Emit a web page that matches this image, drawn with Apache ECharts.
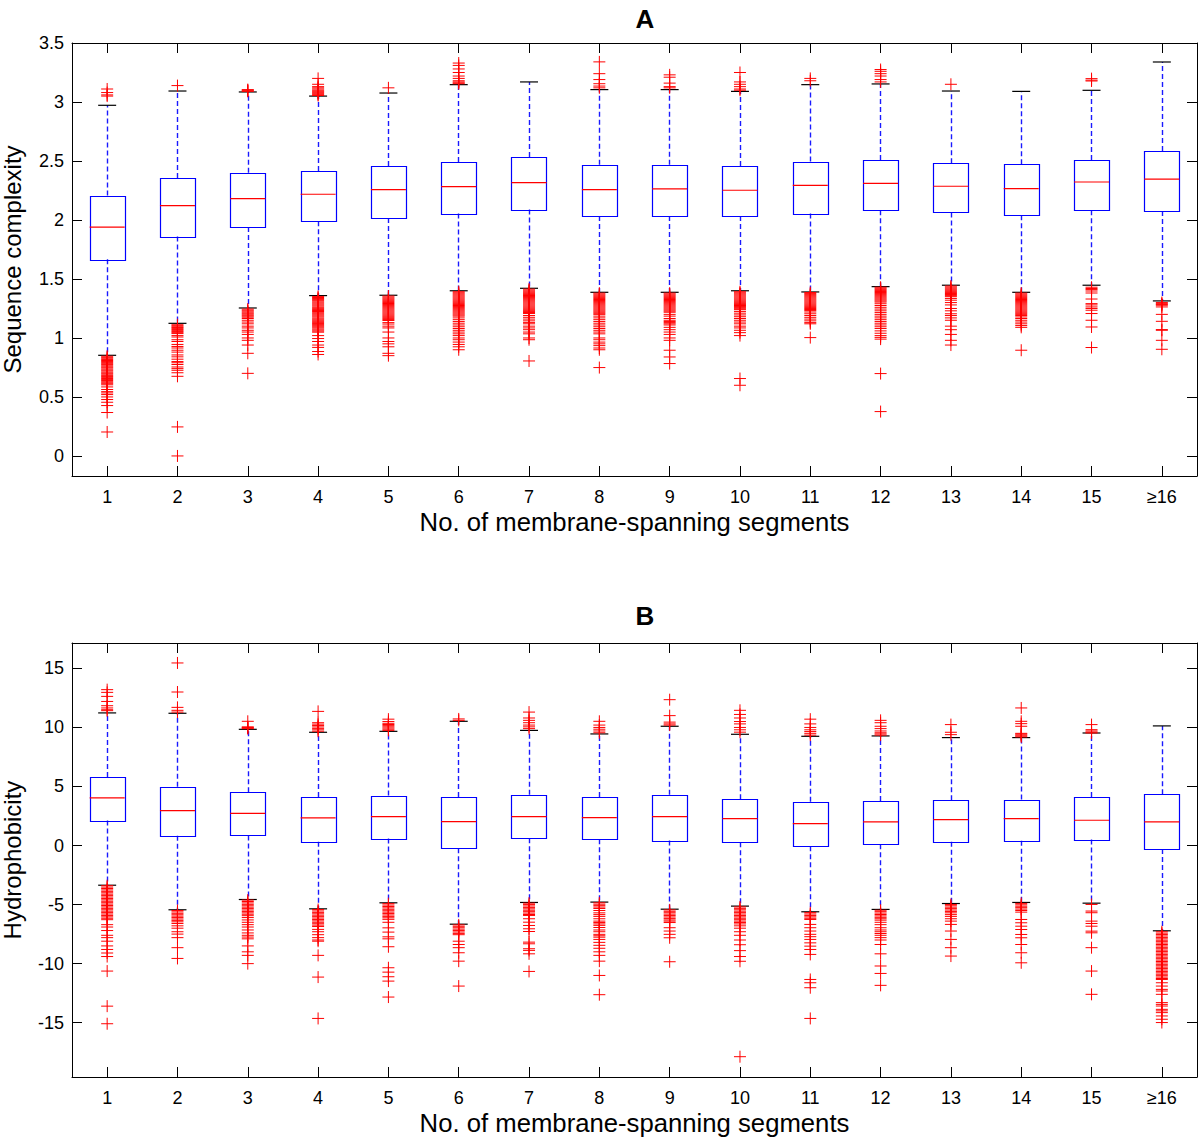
<!DOCTYPE html>
<html><head><meta charset="utf-8">
<script src="https://cdn.jsdelivr.net/npm/echarts@6/dist/echarts.min.js"></script>
<style>html,body{margin:0;padding:0;background:#fff}#chart{width:1200px;height:1141px}</style>
</head><body><div id="chart"></div>
<script>
// ---------- DATA ----------
const categories = ['1','2','3','4','5','6','7','8','9','10','11','12','13','14','15','≥16'];

// Panel A: Sequence complexity
const complexityTicks = [0, 0.5, 1, 1.5, 2, 2.5, 3, 3.5];
const complexityLow    = [0.853,1.124,1.254,1.359,1.362,1.400,1.421,1.387,1.387,1.400,1.390,1.435,1.447,1.387,1.447,1.314];
const complexityQ1     = [1.667,1.859,1.941,1.990,2.017,2.054,2.088,2.034,2.034,2.034,2.054,2.082,2.063,2.040,2.082,2.076];
const complexityMedian = [1.940,2.122,2.181,2.218,2.258,2.283,2.317,2.258,2.263,2.252,2.294,2.311,2.286,2.266,2.322,2.347];
const complexityQ3     = [2.207,2.356,2.400,2.415,2.458,2.492,2.534,2.469,2.469,2.458,2.495,2.508,2.480,2.472,2.508,2.585];
const complexityHigh   = [2.972,3.093,3.085,3.050,3.076,3.147,3.170,3.105,3.105,3.090,3.147,3.153,3.093,3.090,3.099,3.339];
const complexityOutliers = [
  [3.05,3.06,3.08,3.11,0.845,0.836,0.828,0.818,0.809,0.801,0.791,0.782,0.774,0.764,0.755,0.747,0.737,0.728,0.72,0.71,0.701,0.693,0.683,0.674,0.666,0.656,0.647,0.639,0.629,0.62,0.612,0.603,0.585,0.563,0.545,0.534,0.52,0.5,0.478,0.455,0.427,0.368,0.203],
  [3.139,1.112,1.104,1.095,1.088,1.079,1.071,1.062,1.054,1.045,1.037,1.02,1.008,0.985,0.97,0.945,0.928,0.915,0.896,0.88,0.856,0.84,0.82,0.8,0.79,0.775,0.754,0.74,0.726,0.705,0.675,0.246,0.0],
  [3.09,3.095,3.1,3.105,1.245,1.236,1.228,1.219,1.21,1.202,1.193,1.185,1.176,1.165,1.15,1.135,1.12,1.1,1.085,1.065,1.05,1.03,1.0,0.98,0.94,0.87,0.70],
  [3.055,3.062,3.07,3.078,3.085,3.092,3.1,3.11,3.12,3.13,3.15,3.2,1.352,1.343,1.334,1.325,1.316,1.306,1.297,1.288,1.279,1.27,1.26,1.251,1.242,1.233,1.224,1.214,1.205,1.196,1.187,1.178,1.168,1.159,1.15,1.141,1.132,1.122,1.113,1.104,1.095,1.086,1.076,1.067,1.058,1.049,1.02,0.995,0.97,0.94,0.92,0.885,0.86],
  [3.12,1.355,1.346,1.337,1.328,1.319,1.31,1.301,1.292,1.283,1.274,1.265,1.256,1.247,1.238,1.229,1.22,1.211,1.202,1.193,1.184,1.175,1.166,1.157,1.148,1.13,1.118,1.1,1.085,1.05,1.0,0.97,0.95,0.925,0.87,0.85],
  [3.155,3.162,3.17,3.18,3.2,3.22,3.25,3.28,3.31,3.33,1.392,1.383,1.374,1.365,1.356,1.347,1.338,1.329,1.32,1.311,1.302,1.293,1.284,1.275,1.266,1.257,1.248,1.239,1.23,1.221,1.212,1.203,1.194,1.185,1.17,1.155,1.14,1.125,1.11,1.095,1.08,1.065,1.05,1.035,1.02,1.0,0.985,0.965,0.945,0.925,0.9],
  [1.414,1.405,1.396,1.387,1.378,1.369,1.36,1.351,1.342,1.333,1.324,1.315,1.306,1.297,1.288,1.279,1.27,1.261,1.252,1.243,1.234,1.225,1.216,1.207,1.19,1.175,1.16,1.145,1.13,1.12,1.1,1.085,1.07,1.05,1.035,1.0,0.985,0.805],
  [3.12,3.135,3.155,3.19,3.24,3.34,1.38,1.371,1.362,1.353,1.344,1.335,1.326,1.317,1.308,1.299,1.29,1.281,1.272,1.263,1.254,1.245,1.236,1.227,1.218,1.209,1.2,1.185,1.17,1.155,1.14,1.125,1.11,1.095,1.08,1.065,1.05,1.035,1.0,0.985,0.965,0.95,0.935,0.915,0.9,0.749],
  [3.12,3.13,3.16,3.21,3.23,1.38,1.371,1.362,1.353,1.344,1.335,1.326,1.317,1.308,1.299,1.29,1.281,1.272,1.263,1.254,1.245,1.236,1.227,1.218,1.2,1.185,1.165,1.15,1.14,1.13,1.12,1.11,1.09,1.07,1.05,1.03,1.0,0.98,0.896,0.839,0.783],
  [3.1,3.11,3.13,3.15,3.17,3.25,1.392,1.383,1.374,1.365,1.356,1.347,1.338,1.329,1.32,1.311,1.302,1.293,1.284,1.275,1.266,1.257,1.248,1.24,1.225,1.21,1.195,1.18,1.165,1.15,1.135,1.12,1.1,1.085,1.065,1.045,1.02,0.656,0.599],
  [3.18,3.2,1.385,1.376,1.367,1.358,1.349,1.34,1.331,1.322,1.313,1.304,1.295,1.286,1.277,1.268,1.259,1.25,1.241,1.232,1.22,1.205,1.19,1.175,1.16,1.145,1.13,1.12,1.003],
  [3.17,3.19,3.22,3.24,3.26,3.275,1.43,1.421,1.412,1.403,1.394,1.385,1.376,1.367,1.358,1.349,1.34,1.331,1.322,1.313,1.304,1.29,1.275,1.26,1.245,1.23,1.215,1.2,1.185,1.17,1.155,1.14,1.125,1.11,1.095,1.08,1.06,1.04,1.02,1.005,0.99,0.698,0.376],
  [3.15,1.44,1.431,1.422,1.413,1.404,1.395,1.386,1.377,1.368,1.359,1.35,1.335,1.32,1.3,1.28,1.25,1.23,1.205,1.19,1.17,1.15,1.1,1.07,1.03,0.98,0.94],
  [1.38,1.371,1.362,1.353,1.344,1.335,1.326,1.317,1.308,1.299,1.29,1.281,1.272,1.263,1.254,1.245,1.236,1.227,1.218,1.209,1.2,1.19,1.178,1.165,1.15,1.135,1.12,1.105,1.09,0.896],
  [3.178,3.185,3.198,1.43,1.419,1.41,1.398,1.381,1.33,1.291,1.28,1.263,1.25,1.235,1.207,1.15,1.093,0.919],
  [1.3,1.291,1.284,1.277,1.263,1.2,1.141,1.071,1.065,0.98,0.904]
];

// Panel B: Hydrophobicity
const hydroTicks = [-15, -10, -5, 0, 5, 10, 15];
const hydroLow    = [-3.36,-5.44,-4.57,-5.36,-4.85,-6.66,-4.82,-4.79,-5.39,-5.13,-5.61,-5.41,-4.91,-4.82,-4.88,-7.22];
const hydroQ1     = [2.115,0.82,0.85,0.31,0.59,-0.23,0.62,0.53,0.42,0.28,-0.06,0.11,0.31,0.40,0.51,-0.30];
const hydroMedian = [4.03,2.96,2.73,2.34,2.45,2.03,2.45,2.37,2.45,2.28,1.86,2.00,2.20,2.28,2.14,2.00];
const hydroQ3     = [5.81,4.97,4.51,4.12,4.23,4.12,4.29,4.12,4.29,3.92,3.70,3.78,3.83,3.89,4.12,4.34];
const hydroHigh   = [11.23,11.2,9.84,9.59,9.67,10.52,9.75,9.45,10.1,9.42,9.25,9.28,9.14,9.14,9.53,10.13];
const hydroOutliers = [
  [11.42,11.5,11.65,11.84,12.2,12.63,12.97,13.2,-3.4,-3.52,-3.64,-3.76,-3.88,-4.0,-4.12,-4.24,-4.36,-4.48,-4.6,-4.72,-4.84,-4.96,-5.08,-5.2,-5.32,-5.44,-5.56,-5.68,-5.8,-5.92,-6.04,-6.16,-6.28,-6.7,-6.9,-7.2,-7.6,-7.8,-8.1,-8.5,-8.8,-9.1,-9.4,-10.63,-13.6,-15.09],
  [11.3,11.45,11.7,13.0,15.46,-5.5,-5.62,-5.74,-5.86,-5.98,-6.1,-6.22,-6.34,-6.46,-6.6,-6.8,-7.0,-7.3,-7.5,-7.8,-8.65,-9.56],
  [9.9,9.95,10.0,10.05,10.52,-4.62,-4.74,-4.86,-4.98,-5.1,-5.22,-5.34,-5.46,-5.58,-5.7,-5.82,-5.94,-6.1,-6.3,-6.5,-6.7,-6.9,-7.15,-7.4,-7.6,-7.75,-7.9,-8.5,-9.0,-9.3,-10.0],
  [9.68,9.8,9.92,10.04,10.16,10.28,10.4,11.36,-5.42,-5.54,-5.66,-5.78,-5.9,-6.02,-6.14,-6.26,-6.38,-6.5,-6.62,-6.74,-6.86,-7.1,-7.3,-7.55,-7.8,-8.0,-8.1,-9.3,-11.14,-14.64],
  [9.75,9.85,9.95,10.05,10.15,10.25,10.35,10.5,10.7,-4.92,-5.04,-5.16,-5.28,-5.4,-5.52,-5.64,-5.76,-5.88,-6.0,-6.12,-6.25,-6.5,-6.97,-7.33,-7.73,-7.9,-8.57,-10.35,-10.72,-11.11,-11.48,-12.83],
  [10.6,10.72,-6.72,-6.84,-6.96,-7.08,-7.2,-7.32,-7.44,-7.55,-8.1,-8.38,-8.65,-9.08,-9.79,-11.9],
  [9.9,10.05,10.2,10.4,10.6,10.8,11.3,-4.88,-5.0,-5.12,-5.24,-5.36,-5.48,-5.6,-5.72,-5.84,-5.92,-6.2,-6.49,-6.77,-7.05,-7.28,-8.18,-8.32,-8.74,-8.88,-9.17,-10.66],
  [9.55,9.7,9.85,10.0,10.2,10.52,-4.85,-4.97,-5.09,-5.21,-5.33,-5.5,-5.7,-5.85,-6.0,-6.2,-6.4,-6.52,-6.64,-6.76,-6.94,-7.15,-7.3,-7.52,-7.64,-7.76,-7.95,-8.2,-8.45,-8.7,-9.0,-9.3,-9.79,-11.0,-12.63],
  [10.2,10.3,10.45,11.0,12.35,-5.45,-5.57,-5.69,-5.81,-5.93,-6.05,-6.17,-6.3,-6.4,-6.52,-6.96,-7.24,-7.52,-7.81,-9.84],
  [9.6,9.8,10.0,10.3,10.5,10.8,11.1,11.45,-5.2,-5.32,-5.44,-5.56,-5.68,-5.8,-5.92,-6.04,-6.16,-6.28,-6.4,-6.52,-6.64,-6.8,-7.0,-7.3,-7.6,-8.0,-8.4,-8.9,-9.4,-9.8,-17.88],
  [9.35,9.5,9.65,9.8,10.0,10.3,10.7,-5.68,-5.8,-5.92,-6.04,-6.16,-6.26,-6.68,-6.96,-7.24,-7.52,-7.72,-7.95,-8.24,-8.52,-8.8,-9.22,-11.34,-11.62,-12.04,-14.64],
  [9.35,9.45,9.55,9.7,9.9,10.1,10.4,10.6,-5.48,-5.6,-5.72,-5.84,-5.96,-6.08,-6.2,-6.32,-6.5,-6.7,-6.96,-7.15,-7.3,-7.45,-7.6,-7.8,-8.0,-8.38,-9.17,-10.2,-10.83,-11.84],
  [9.39,9.59,10.24,-4.99,-5.1,-5.22,-5.34,-5.46,-5.58,-5.7,-5.85,-6.0,-6.2,-6.4,-6.68,-7.24,-7.95,-8.65,-9.36],
  [9.2,9.28,9.36,9.44,9.5,10.1,10.32,10.52,11.65,-4.9,-5.02,-5.14,-5.26,-5.38,-5.5,-5.64,-6.26,-6.54,-6.83,-7.11,-7.53,-7.81,-8.38,-9.08,-9.93],
  [9.53,9.6,9.7,9.81,10.24,-4.99,-5.55,-5.69,-6.4,-6.6,-6.83,-7.25,-7.39,-8.65,-10.63,-12.6],
  [-7.3,-7.42,-7.54,-7.66,-7.78,-7.9,-8.02,-8.14,-8.26,-8.38,-8.5,-8.62,-8.74,-8.86,-8.98,-9.1,-9.22,-9.34,-9.46,-9.58,-9.7,-9.82,-9.94,-10.06,-10.18,-10.3,-10.42,-10.54,-10.66,-10.78,-10.9,-11.02,-11.14,-11.26,-11.34,-11.62,-11.9,-12.18,-12.32,-12.6,-13.3,-13.45,-13.59,-13.87,-14.0,-14.15,-14.43,-14.71,-14.99]
];

// ---------- CHART ----------
const FONT = '"Liberation Sans", Arial, sans-serif';
const BLUE = '#0000ff', WHISKER = '#1a1aff', RED = '#ff0000', BLACK = '#000000';
const chart = echarts.init(document.getElementById('chart'), null, {renderer: 'svg'});
const snap = v => Math.round(v) + 0.5;

// box: one rect element per item
function boxRender(params, api) {
  const i = api.value(0);
  const band = api.size([1, 0])[0];
  const pQ1 = api.coord([i, api.value(1)]);
  const pQ3 = api.coord([i, api.value(2)]);
  const hw = band * 0.25;
  const cx = pQ1[0];
  return {type: 'rect',
          shape: {x: snap(cx - hw), y: snap(pQ3[1]), width: Math.round(2 * hw), height: Math.round(pQ1[1] - pQ3[1])},
          style: {fill: 'none', stroke: BLUE, lineWidth: 1.2}};
}

function pairData(a, b) { return categories.map((c, i) => [i, a[i], b[i]]); }
function pointData(v) { return categories.map((c, i) => [i, v[i]]); }
function segData(a, b) { return categories.map((c, i) => ({coords: [[i, a[i]], [i, b[i]]]})); }
function outlierData(outs) {
  const d = [];
  outs.forEach((arr, i) => arr.forEach(v => d.push([i, v])));
  return d;
}

const CROSS = 'path://M0,6L12,6M6,0L6,12';
function panelSeries(ax, low, q1, med, q3, high, outs) {
  const whisker = {type: 'lines', coordinateSystem: 'cartesian2d', xAxisIndex: ax, yAxisIndex: ax,
                   polyline: false, silent: true, z: 2,
                   lineStyle: {color: WHISKER, width: 1.4, type: [5, 3], opacity: 1, curveness: 0}};
  return [
    Object.assign({}, whisker, {data: segData(q3, high)}),
    Object.assign({}, whisker, {data: segData(q1, low)}),
    {type: 'scatter', xAxisIndex: ax, yAxisIndex: ax, symbol: 'rect', symbolSize: [18, 1.2], silent: true,
     itemStyle: {color: BLACK, opacity: 1}, data: pointData(high).concat(pointData(low)), z: 3},
    {type: 'custom', xAxisIndex: ax, yAxisIndex: ax, renderItem: boxRender, encode: {x: 0, y: [1, 2]}, data: pairData(q1, q3), z: 4},
    {type: 'scatter', xAxisIndex: ax, yAxisIndex: ax, symbol: 'rect', symbolSize: [35, 1.2], silent: true,
     itemStyle: {color: RED, opacity: 1}, data: pointData(med), z: 5},
    {type: 'scatter', xAxisIndex: ax, yAxisIndex: ax, symbol: CROSS, symbolSize: 12, silent: true, large: false,
     itemStyle: {color: 'none', borderColor: RED, borderWidth: 1, opacity: 1}, data: outlierData(outs), z: 6}
  ];
}

const tickStyle = {show: true, inside: true, length: 10, lineStyle: {color: BLACK, width: 1}};
const lineStyle = {show: true, onZero: false, lineStyle: {color: BLACK, width: 1}};
const labelFont = {fontFamily: FONT, fontSize: 18, color: BLACK};

function xAxisDef(gridIndex, position, showLabel) {
  const ax = {
    type: 'category', gridIndex, position, data: categories, boundaryGap: true,
    axisLine: lineStyle,
    axisTick: Object.assign({alignWithLabel: true, interval: 0}, tickStyle),
    axisLabel: Object.assign({show: showLabel, interval: 0, margin: 12}, labelFont),
    splitLine: {show: false}
  };
  if (showLabel) {
    ax.name = 'No. of membrane-spanning segments';
    ax.nameLocation = 'middle';
    ax.nameGap = 33;
    ax.nameTextStyle = {fontFamily: FONT, fontSize: 25.7, color: BLACK};
  }
  return ax;
}
function yAxisDef(gridIndex, position, min, max, ticks, name) {
  const ax = {
    type: 'value', gridIndex, position, min, max,
    axisLine: lineStyle,
    axisTick: Object.assign({customValues: ticks}, tickStyle),
    axisLabel: Object.assign({show: !!name, customValues: ticks, margin: 8}, labelFont),
    splitLine: {show: false}
  };
  if (name) {
    ax.name = name;
    ax.nameLocation = 'middle';
    ax.nameGap = 48;
    ax.nameTextStyle = {fontFamily: FONT, fontSize: 24, color: BLACK};
  }
  return ax;
}

const option = {
  backgroundColor: '#ffffff',
  animation: false,
  grid: [
    {left: 72, top: 43, width: 1125, height: 433, containLabel: false, outerBoundsMode: 'none'},
    {left: 72, top: 643, width: 1125, height: 434, containLabel: false, outerBoundsMode: 'none'}
  ],
  graphic: [
    {type: 'text', x: 645, y: 19, style: {text: 'A', font: 'bold 26px ' + FONT, fill: BLACK, textAlign: 'center', textVerticalAlign: 'middle'}},
    {type: 'text', x: 645, y: 616, style: {text: 'B', font: 'bold 26px ' + FONT, fill: BLACK, textAlign: 'center', textVerticalAlign: 'middle'}}
  ],
  xAxis: [
    xAxisDef(0, 'bottom', true),
    xAxisDef(0, 'top', false),
    xAxisDef(1, 'bottom', true),
    xAxisDef(1, 'top', false)
  ],
  yAxis: [
    yAxisDef(0, 'left', -0.17, 3.5, complexityTicks, 'Sequence complexity'),
    yAxisDef(0, 'right', -0.17, 3.5, complexityTicks, null),
    yAxisDef(1, 'left', -19.6, 17.15, hydroTicks, 'Hydrophobicity'),
    yAxisDef(1, 'right', -19.6, 17.15, hydroTicks, null)
  ],
  series: [].concat(
    panelSeries(0, complexityLow, complexityQ1, complexityMedian, complexityQ3, complexityHigh, complexityOutliers),
    panelSeries(2, hydroLow, hydroQ1, hydroMedian, hydroQ3, hydroHigh, hydroOutliers)
  )
};
chart.setOption(option);
</script>
</body></html>
